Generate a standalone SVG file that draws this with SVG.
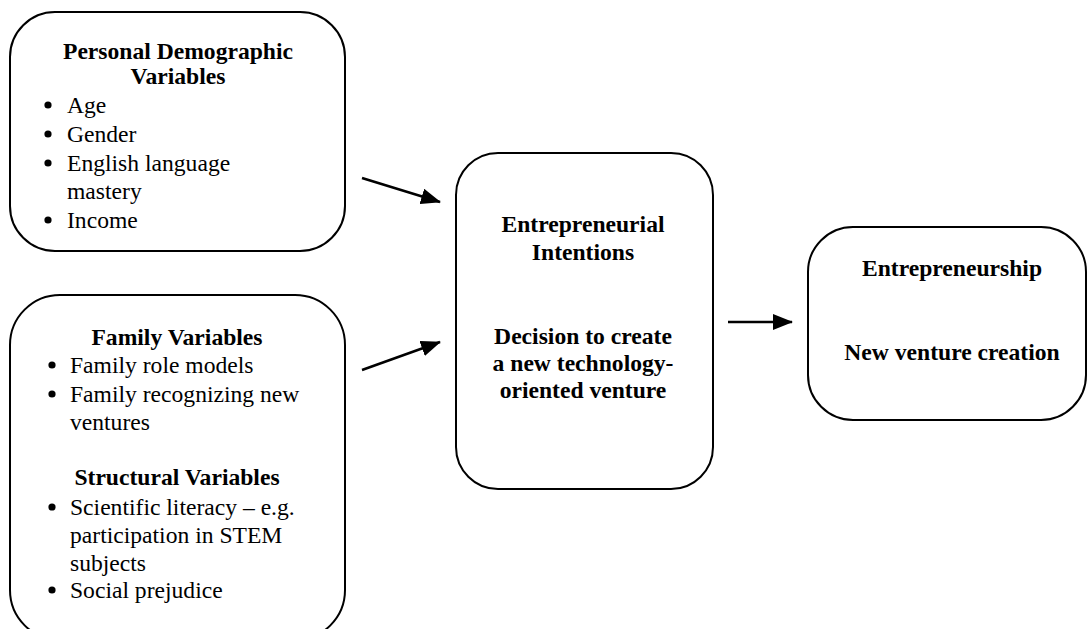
<svg xmlns="http://www.w3.org/2000/svg" width="1088" height="629" viewBox="0 0 1088 629">
<style>
.box{fill:#fff;stroke:#000;stroke-width:2}
.t{font-family:"Liberation Serif","Times New Roman",serif;font-size:23.6px;fill:#000}
.b{font-weight:bold;text-anchor:middle}
.c{stroke:#000;stroke-width:2.5;fill:none}
</style>
<defs>
<marker id="ah" markerUnits="userSpaceOnUse" markerWidth="20" markerHeight="16" refX="19" refY="8" orient="auto">
<path d="M0,0 L20,8 L0,16 Z" fill="#000"/>
</marker>
</defs>
<rect width="1088" height="629" fill="#fff"/>
<g id="personal">
<rect class="box" x="10" y="12" width="335" height="239" rx="45" ry="45"/>
<text class="t b" x="178" y="59">Personal Demographic</text>
<text class="t b" x="178" y="84">Variables</text>
<g fill="#000"><circle cx="48" cy="105" r="3.6"/><circle cx="48" cy="134" r="3.6"/><circle cx="48" cy="163" r="3.6"/><circle cx="48" cy="220" r="3.6"/></g>
<text class="t" x="67" y="113">Age</text>
<text class="t" x="67" y="142">Gender</text>
<text class="t" x="67" y="171">English language</text>
<text class="t" x="67" y="199">mastery</text>
<text class="t" x="67" y="228">Income</text>
</g>
<g id="family">
<rect class="box" x="10" y="295" width="335" height="345" rx="50" ry="50"/>
<text class="t b" x="177" y="345">Family Variables</text>
<g fill="#000"><circle cx="52" cy="365" r="3.6"/><circle cx="52" cy="394" r="3.6"/><circle cx="52" cy="507" r="3.6"/><circle cx="52" cy="590" r="3.6"/></g>
<text class="t" x="70" y="373">Family role models</text>
<text class="t" x="70" y="402">Family recognizing new</text>
<text class="t" x="70" y="430">ventures</text>
<text class="t b" x="177" y="485">Structural Variables</text>
<text class="t" x="70" y="515">Scientific literacy – e.g.</text>
<text class="t" x="70" y="543">participation in STEM</text>
<text class="t" x="70" y="571">subjects</text>
<text class="t" x="70" y="598">Social prejudice</text>
</g>
<g id="intentions">
<rect class="box" x="456" y="153" width="257" height="336" rx="42" ry="42"/>
<text class="t b" x="583" y="232">Entrepreneurial</text>
<text class="t b" x="583" y="260">Intentions</text>
<text class="t b" x="583" y="344">Decision to create</text>
<text class="t b" x="583" y="371">a new technology-</text>
<text class="t b" x="583" y="398">oriented venture</text>
</g>
<g id="entrepreneurship">
<rect class="box" x="808" y="227" width="278" height="193" rx="45" ry="45"/>
<text class="t b" x="952" y="276">Entrepreneurship</text>
<text class="t b" x="952" y="360">New venture creation</text>
</g>
<g id="connectors">
<line class="c" x1="362" y1="178" x2="440" y2="202" marker-end="url(#ah)"/>
<line class="c" x1="362" y1="370" x2="440" y2="342" marker-end="url(#ah)"/>
<line class="c" x1="728" y1="322" x2="792" y2="322" marker-end="url(#ah)"/>
</g>
</svg>
